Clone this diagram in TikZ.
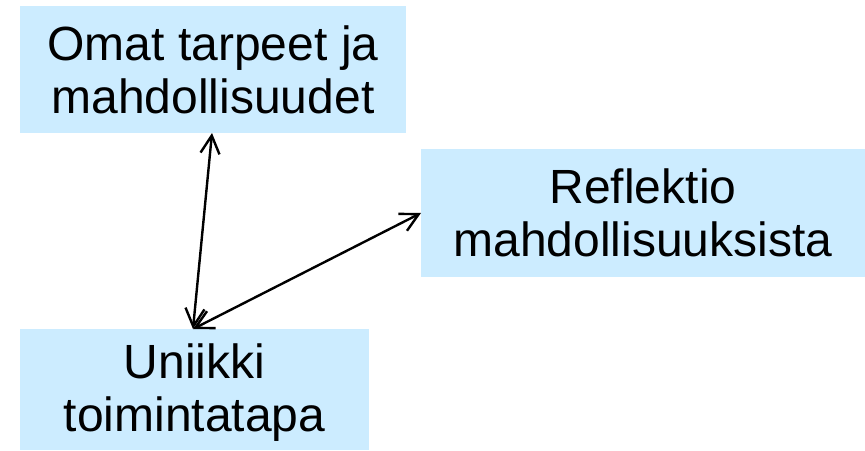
\documentclass[tikz,border=0pt]{standalone}
\usepackage{fontspec}
\setmainfont{Liberation Sans}
\usetikzlibrary{arrows.meta}
\definecolor{boxblue}{HTML}{CCECFF}
\tikzset{
  box/.style={fill=boxblue, draw=none, inner sep=0pt, outer sep=0pt, align=center,
    font=\fontsize{48}{53}\selectfont},
  arr/.style={line width=2.4pt, {Straight Barb[length=18pt,width=19pt]}-{Straight Barb[length=18pt,width=19pt]}}
}
\begin{document}
\begin{tikzpicture}[x=1pt,y=-1pt]
\useasboundingbox (0,0) rectangle (865,450);
\node[box, minimum width=386pt, minimum height=127pt] (n1) at (213,69.5) {Omat tarpeet ja\\mahdollisuudet};
\node[box, minimum width=444pt, minimum height=128pt] (n2) at (643,213) {Reflektio\\mahdollisuuksista};
\node[box, minimum width=349pt, minimum height=121pt, text depth=4pt] (n3) at (194.5,389.5) {Uniikki\\toimintatapa};
\draw[arr] ([xshift=192pt]n1.south west) -- ([xshift=173pt]n3.north west);
\draw[arr] ([xshift=173pt]n3.north west) -- ([yshift=-64pt]n2.north west);
\end{tikzpicture}
\end{document}
